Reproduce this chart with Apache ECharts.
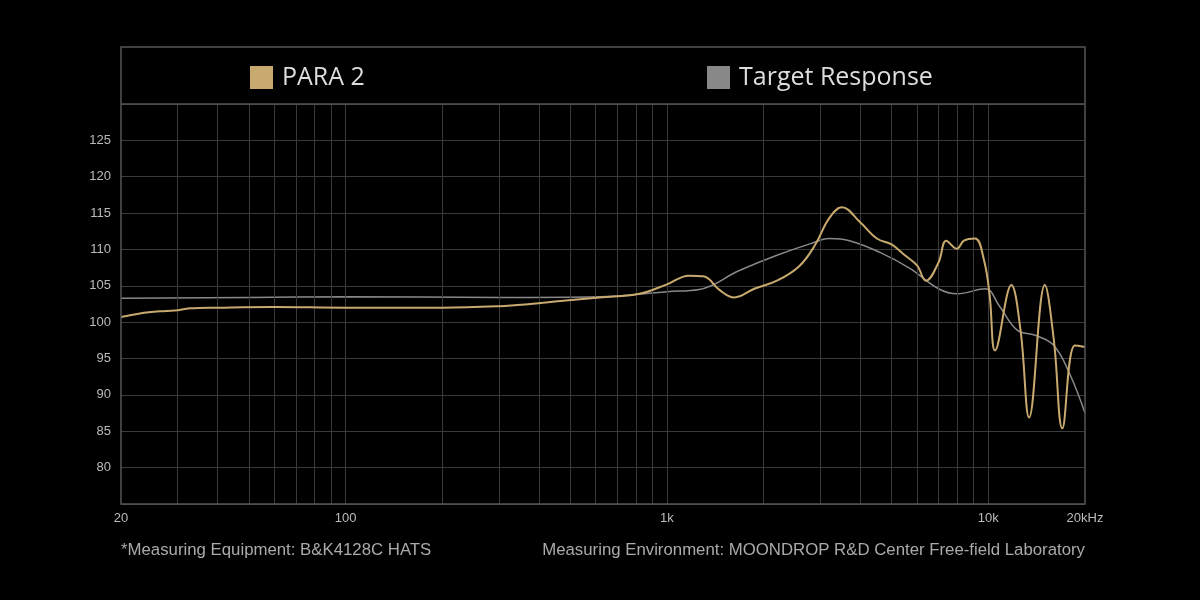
<!DOCTYPE html>
<html><head><meta charset="utf-8">
<script src="https://cdn.jsdelivr.net/npm/echarts@6/dist/echarts.min.js"></script>
<style>html,body{margin:0;background:#000}#c{width:1200px;height:600px}</style>
</head><body><div id="c"></div>
<script>
const para2 = [[20,100.7],[22.9,101.2],[26.4,101.5],[29.4,101.6],[32.8,101.9],[40,102.0],[60,102.1],[100,102.0],[200,102.0],[301,102.2],[376,102.5],[466,102.9],[617,103.4],[820,103.9],[1000,105.2],[1170,106.4],[1300,106.3],[1460,104.4],[1620,103.4],[1870,104.6],[2200,105.7],[2580,107.7],[2890,110.6],[3200,114.3],[3500,115.8],[4000,113.7],[4500,111.5],[5000,110.7],[5500,109.2],[6000,107.8],[6400,105.7],[7000,108.2],[7400,111.2],[7980,110.1],[8400,111.2],[9100,111.5],[9700,108.5],[10100,103.7],[10500,96.1],[11800,105.1],[12600,98.9],[13400,86.9],[15000,105.1],[16000,97.5],[17000,85.4],[18600,96.8],[20000,96.6]];
const target = [[20,103.3],[50,103.4],[100,103.5],[300,103.4],[617,103.5],[1000,104.2],[1260,104.5],[1680,107.1],[2200,109.2],[2800,110.8],[3200,111.5],[3700,111.2],[4600,109.6],[5700,107.4],[7000,104.6],[8000,103.9],[9800,104.6],[10800,102.3],[12300,98.9],[14000,98.2],[16000,96.8],[18000,92.7],[20000,87.5]];
const gridFreqs = [30,40,50,60,70,80,90,100,200,300,400,500,600,700,800,900,1000,2000,3000,4000,5000,6000,7000,8000,9000,10000];
const tickLabels = [[20,'20'],[100,'100'],[1000,'1k'],[10000,'10k'],[20000,'20kHz']];
const yTicks = [80,85,90,95,100,105,110,115,120,125];
const chart = echarts.init(document.getElementById('c'));
chart.setOption({
  backgroundColor:'#000',
  animation:false,
  grid:{left:121,right:115,top:104,bottom:96},
  legend:[
    {data:['PARA 2'],left:250,top:65,padding:0,icon:'rect',itemWidth:23,itemHeight:23,textStyle:{color:'#ddd',fontSize:25,fontFamily:'Open Sans',fontWeight:500,padding:[0,0,0,4]}},
    {data:['Target Response'],left:707,top:65,padding:0,icon:'rect',itemWidth:23,itemHeight:23,textStyle:{color:'#ddd',fontSize:25,fontFamily:'Open Sans',fontWeight:500,padding:[0,0,0,4]}}
  ],
  graphic:[
    {type:'rect',shape:{x:121,y:47,width:964,height:457},style:{fill:'none',stroke:'#555',lineWidth:1.5},z:10},
    {type:'line',shape:{x1:121,y1:104,x2:1085,y2:104},style:{stroke:'#555',lineWidth:1.5},z:10},
    {type:'text',left:121,top:542,style:{text:'*Measuring Equipment: B&K4128C HATS',fill:'#aaa',fontSize:16.8,fontFamily:'Liberation Sans'}},
    {type:'text',right:115,top:542,style:{text:'Measuring Environment: MOONDROP R&D Center Free-field Laboratory',fill:'#aaa',fontSize:16.8,fontFamily:'Liberation Sans'}}
  ],
  xAxis:{type:'log',min:20,max:20000,axisLine:{show:false},axisTick:{show:false},axisLabel:{show:false},splitLine:{show:false}},
  yAxis:{type:'value',min:75,max:130,interval:5,axisLine:{show:false},axisTick:{show:false},
    axisLabel:{color:'#bbb',fontSize:13,margin:10,formatter:v=>yTicks.includes(v)?String(v):''},
    splitLine:{lineStyle:{color:'#3a3a3a',width:1}}},
  series:[
    {name:'PARA 2',type:'line',data:para2,smooth:0.4,showSymbol:false,lineStyle:{color:'#c8a96e',width:2},itemStyle:{color:'#c8a96e'},z:5,
     markLine:{silent:true,symbol:'none',animation:false,
       lineStyle:{color:'#3a3a3a',type:'solid',width:1},
       label:{show:false},
       data:gridFreqs.map(f=>({xAxis:f})).concat(tickLabels.map(t=>({xAxis:t[0],lineStyle:{color:'rgba(0,0,0,0)'},label:{show:true,position:'start',formatter:t[1],color:'#bbb',fontSize:13,distance:8}})))}},
    {name:'Target Response',type:'line',data:target,smooth:0.4,showSymbol:false,lineStyle:{color:'#888',width:1.5},itemStyle:{color:'#888'},z:4}
  ]
});
</script></body></html>
